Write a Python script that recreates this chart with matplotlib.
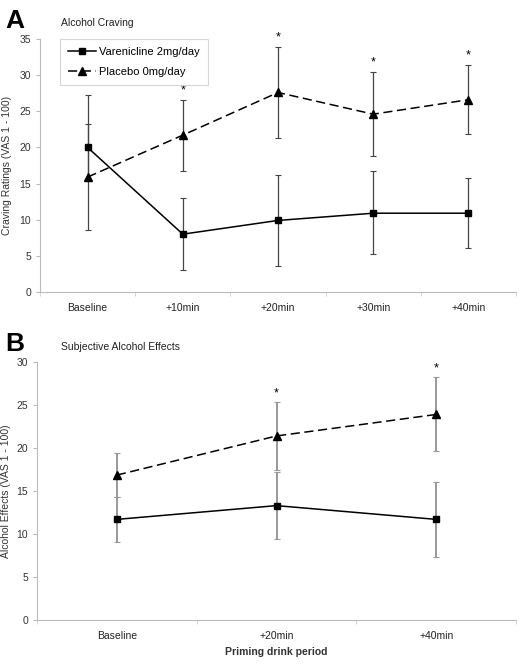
import numpy as np
import matplotlib.pyplot as plt

plt.rcParams["font.family"] = ["Liberation Sans", "DejaVu Sans"]

# -----------------------------
# Panel A: alcohol craving
# -----------------------------
craving_periods = ["Baseline", "+10min", "+20min", "+30min", "+40min"]
craving_var = [20.0, 8.0, 9.9, 10.9, 10.9]
craving_var_err_lo = [4.7, 4.9, 6.3, 5.7, 4.8]
craving_var_err_hi = [7.3, 5.0, 6.3, 5.8, 4.9]
craving_pla = [15.9, 21.7, 27.6, 24.6, 26.6]
craving_pla_err = [7.3, 4.9, 6.3, 5.8, 4.8]
craving_sig = [False, True, True, True, True]

# -----------------------------
# Panel B: subjective alcohol effects
# -----------------------------
effects_periods = ["Baseline", "+20min", "+40min"]
effects_var = [11.7, 13.3, 11.7]
effects_var_err = [2.6, 3.9, 4.4]
effects_pla = [16.85, 21.4, 23.9]
effects_pla_err = [2.6, 3.9, 4.3]
effects_sig = [False, True, True]

W, H = 523, 665
fig = plt.figure(figsize=(W / 100, H / 100), dpi=100)


def box(l, t, r, b):
    return [l / W, 1 - b / H, (r - l) / W, (b - t) / H]


def style_axis(ax, n, ymax):
    ax.set_xlim(-0.5, n - 0.5)
    ax.set_ylim(0, ymax)
    for s in ["top", "right"]:
        ax.spines[s].set_visible(False)
    for s in ["left", "bottom"]:
        ax.spines[s].set_color("#bbbbbb")
        ax.spines[s].set_linewidth(0.8)
    ax.set_xticks(range(n))
    ax.set_xticks(np.arange(-0.5, n, 1.0), minor=True)
    ax.tick_params(axis="x", which="major", length=0, labelsize=7.5, pad=8,
                   labelcolor="#222222")
    ax.tick_params(axis="x", which="minor", length=3, color="#cccccc")
    ax.tick_params(axis="y", length=3, color="#bbbbbb", labelsize=7.5,
                   labelcolor="#333333")


# ---- Panel A ----
axA = fig.add_axes(box(40, 39, 516, 292))
style_axis(axA, len(craving_periods), 35)
xa = np.arange(len(craving_periods))
lineA1 = axA.errorbar(xa, craving_var, yerr=[craving_var_err_lo, craving_var_err_hi],
                      color="black", ls="-", lw=1.1, marker="s", ms=5,
                      ecolor="#444444", elinewidth=0.9, capsize=2.5, capthick=0.8)
lineA2 = axA.errorbar(xa, craving_pla, yerr=craving_pla_err,
                      color="black", ls=(0, (6, 3)), lw=1.1, marker="^", ms=5.5,
                      ecolor="#444444", elinewidth=0.9, capsize=2.5, capthick=0.8)
axA.set_xticklabels(craving_periods)
axA.set_yticks(range(0, 36, 5))
axA.set_ylabel("Craving Ratings (VAS 1 - 100)", fontsize=7.5, color="#333333")
axA.yaxis.set_label_coords(-0.059, 0.5)
for i, sig in enumerate(craving_sig):
    if sig:
        top = craving_pla[i] + craving_pla_err[i]
        axA.text(i, top + 0.5, "*", ha="center", va="bottom", fontsize=9)
leg = axA.legend(handles=[lineA1[0], lineA2[0]],
                 labels=["Varenicline 2mg/day", "Placebo 0mg/day"],
                 loc="upper left", bbox_to_anchor=(0.042, 1.0), borderaxespad=0,
                 fontsize=8, frameon=True, fancybox=False, edgecolor="#cccccc",
                 handlelength=2.5, handletextpad=0.35, borderpad=0.7,
                 labelspacing=0.9)
leg.get_frame().set_linewidth(0.8)
fig.text(5 / W, 1 - 28 / H, "A", fontsize=19, fontweight="bold")
fig.text(61 / W, 1 - 26 / H, "Alcohol Craving", fontsize=7.5, color="#222222")

# ---- Panel B ----
axB = fig.add_axes(box(37, 362, 516, 620))
style_axis(axB, len(effects_periods), 30)
xb = np.arange(len(effects_periods))
axB.errorbar(xb, effects_var, yerr=effects_var_err, color="black", ls="-",
             lw=1.1, marker="s", ms=5, ecolor="#999999", elinewidth=1.4,
             capsize=2.5, capthick=0.8)
axB.errorbar(xb, effects_pla, yerr=effects_pla_err, color="black",
             ls=(0, (6, 3)), lw=1.1, marker="^", ms=5.5, ecolor="#999999",
             elinewidth=1.4, capsize=2.5, capthick=0.8)
axB.set_xticklabels(effects_periods)
axB.set_yticks(range(0, 31, 5))
axB.set_ylabel("Alcohol Effects (VAS 1 - 100)", fontsize=7.5, color="#333333")
axB.yaxis.set_label_coords(-0.054, 0.5)
axB.set_xlabel("Priming drink period", fontsize=7.5, fontweight="bold",
               color="#333333", labelpad=4)
for i, sig in enumerate(effects_sig):
    if sig:
        top = effects_pla[i] + effects_pla_err[i]
        axB.text(i, top + 0.4, "*", ha="center", va="bottom", fontsize=9)
fig.text(5 / W, 1 - 351 / H, "B", fontsize=19, fontweight="bold")
fig.text(61 / W, 1 - 350 / H, "Subjective Alcohol Effects", fontsize=7.5,
         color="#222222")

fig.savefig("out.png", dpi=100, facecolor="white")
